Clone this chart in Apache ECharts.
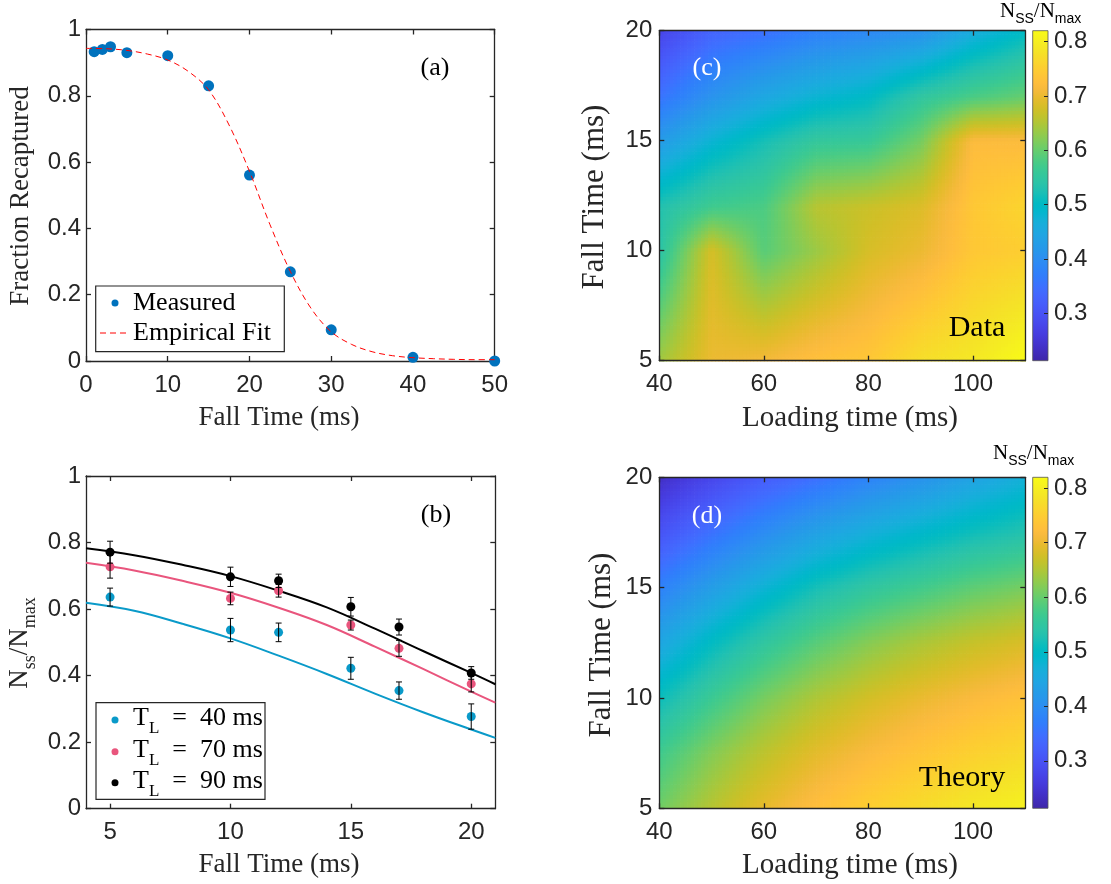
<!DOCTYPE html>
<html><head><meta charset="utf-8">
<script src="https://cdn.jsdelivr.net/npm/echarts@6/dist/echarts.min.js"></script>
<style>html,body{margin:0;padding:0;background:#fff}#chart{width:1111px;height:884px}</style>
</head><body><div id="chart"></div>
<script>
// ---------- Panel (a): recapture vs fall time ----------
const fallTimeA   = [1, 2, 3, 5, 10, 15, 20, 25, 30, 40, 50];
const recapturedA = [0.933, 0.940, 0.948, 0.930, 0.921, 0.830, 0.561, 0.269, 0.094, 0.011, 0.0];
const fitX = [0, 2.5, 5, 7.5, 10, 12.5, 15, 17.5, 20, 22.5, 25, 27.5, 30, 32.5, 35, 37.5, 40, 42.5, 45, 47.5, 50];
const fitY = [0.943, 0.942, 0.937, 0.926, 0.908, 0.874, 0.818, 0.712, 0.572, 0.412, 0.270, 0.160, 0.088, 0.050, 0.028, 0.016, 0.010, 0.007, 0.005, 0.004, 0.004];

// ---------- Panel (b): Nss/Nmax vs fall time ----------
const fallTimeB = [5, 10, 12, 15, 17, 20];
const nss40 = [0.636, 0.537, 0.530, 0.422, 0.355, 0.277];
const err40 = [0.027, 0.035, 0.028, 0.033, 0.026, 0.038];
const nss70 = [0.727, 0.632, 0.655, 0.552, 0.482, 0.375];
const err70 = [0.034, 0.019, 0.019, 0.015, 0.024, 0.024];
const nss90 = [0.771, 0.697, 0.685, 0.607, 0.546, 0.408];
const err90 = [0.033, 0.029, 0.020, 0.028, 0.024, 0.019];
const theoryX  = [4, 6, 8, 10, 12, 14, 16, 18, 20, 21];
const theory40 = [0.619, 0.595, 0.556, 0.512, 0.460, 0.405, 0.346, 0.290, 0.238, 0.213];
const theory70 = [0.739, 0.716, 0.685, 0.649, 0.604, 0.552, 0.487, 0.420, 0.352, 0.319];
const theory90 = [0.783, 0.762, 0.733, 0.699, 0.655, 0.605, 0.541, 0.474, 0.408, 0.374];

// ---------- Panel (c): measured map ----------
const loadingTimes = [40, 50, 60, 70, 80, 90, 100, 110];
const fallTimesData = [5, 10, 12, 15, 17, 20];
const dataTf5  = [0.64, 0.70, 0.71, 0.73, 0.74, 0.775, 0.79, 0.82];
const dataTf10 = [0.54, 0.68, 0.59, 0.635, 0.68, 0.70, 0.74, 0.75];
const dataTf12 = [0.53, 0.57, 0.58, 0.655, 0.67, 0.685, 0.74, 0.76];
const dataTf15 = [0.425, 0.48, 0.52, 0.555, 0.56, 0.61, 0.72, 0.72];
const dataTf17 = [0.355, 0.41, 0.45, 0.48, 0.50, 0.55, 0.58, 0.60];
const dataTf20 = [0.275, 0.33, 0.35, 0.375, 0.39, 0.405, 0.46, 0.50];

// ---------- Panel (d): theory map ----------
const fallTimesTheory = [5, 7.5, 10, 12.5, 15, 17.5, 20];
const thTf5   = [0.607, 0.655, 0.695, 0.727, 0.752, 0.771, 0.790, 0.805];
const thTf7_5 = [0.570, 0.620, 0.660, 0.692, 0.717, 0.737, 0.754, 0.768];
const thTf10  = [0.512, 0.565, 0.612, 0.649, 0.677, 0.699, 0.717, 0.732];
const thTf12_5= [0.448, 0.503, 0.550, 0.590, 0.622, 0.647, 0.667, 0.683];
const thTf15  = [0.377, 0.430, 0.478, 0.520, 0.550, 0.572, 0.595, 0.612];
const thTf17_5= [0.303, 0.352, 0.397, 0.437, 0.467, 0.492, 0.515, 0.532];
const thTf20  = [0.237, 0.280, 0.318, 0.350, 0.382, 0.408, 0.440, 0.470];

// tick labels
const ticksA_x = [0, 10, 20, 30, 40, 50];
const ticksA_y = [0, 0.2, 0.4, 0.6, 0.8, 1];
const ticksB_x = [5, 10, 15, 20];
const ticksMap_x = [40, 60, 80, 100];
const ticksMap_y = [5, 10, 15, 20];
const ticksCbar = [0.3, 0.4, 0.5, 0.6, 0.7, 0.8];
const CBAR_MIN = 0.213, CBAR_MAX = 0.82;

// ---------- style ----------
const SERIF = '"Liberation Serif","Times New Roman",Times,serif';
const SANS = '"Liberation Sans",Arial,Helvetica,sans-serif';
const AX = '#262626';
const BLUE_A = '#0072BD', C40 = '#0A9AC9', C70 = '#E9557D', C90 = '#000000';
const TICK_FS = 24;

// parula colormap (64 levels)
const PARULA = [
[0.2422,0.1504,0.6603],[0.2504,0.1650,0.7076],[0.2578,0.1818,0.7511],[0.2647,0.1978,0.7952],
[0.2706,0.2147,0.8364],[0.2751,0.2342,0.8710],[0.2783,0.2559,0.8991],[0.2803,0.2782,0.9221],
[0.2813,0.3006,0.9414],[0.2810,0.3228,0.9579],[0.2795,0.3447,0.9717],[0.2760,0.3667,0.9829],
[0.2699,0.3892,0.9906],[0.2602,0.4123,0.9952],[0.2440,0.4358,0.9988],[0.2206,0.4603,0.9973],
[0.1963,0.4847,0.9892],[0.1834,0.5074,0.9798],[0.1786,0.5289,0.9682],[0.1764,0.5499,0.9520],
[0.1687,0.5703,0.9359],[0.1540,0.5902,0.9218],[0.1460,0.6091,0.9079],[0.1380,0.6276,0.8973],
[0.1248,0.6459,0.8883],[0.1113,0.6635,0.8763],[0.0952,0.6798,0.8598],[0.0689,0.6948,0.8394],
[0.0297,0.7082,0.8163],[0.0036,0.7203,0.7917],[0.0067,0.7312,0.7660],[0.0433,0.7411,0.7394],
[0.0964,0.7500,0.7120],[0.1408,0.7584,0.6842],[0.1717,0.7670,0.6554],[0.1938,0.7758,0.6251],
[0.2161,0.7843,0.5923],[0.2470,0.7918,0.5567],[0.2906,0.7973,0.5188],[0.3406,0.8008,0.4789],
[0.3909,0.8029,0.4354],[0.4456,0.8024,0.3909],[0.5044,0.7993,0.3480],[0.5616,0.7942,0.3045],
[0.6174,0.7876,0.2612],[0.6720,0.7793,0.2227],[0.7242,0.7698,0.1910],[0.7738,0.7598,0.1646],
[0.8203,0.7498,0.1535],[0.8634,0.7406,0.1596],[0.9035,0.7330,0.1774],[0.9393,0.7288,0.2100],
[0.9728,0.7298,0.2394],[0.9956,0.7434,0.2371],[0.9970,0.7659,0.2199],[0.9952,0.7893,0.2028],
[0.9892,0.8136,0.1885],[0.9786,0.8386,0.1766],[0.9676,0.8639,0.1643],[0.9610,0.8890,0.1537],
[0.9597,0.9135,0.1423],[0.9628,0.9373,0.1265],[0.9691,0.9606,0.1064],[0.9769,0.9839,0.0805]];
function rgb(c){return 'rgb('+Math.round(c[0]*255)+','+Math.round(c[1]*255)+','+Math.round(c[2]*255)+')';}
function parulaColor(val){
  let t=(val-CBAR_MIN)/(CBAR_MAX-CBAR_MIN); t=Math.max(0,Math.min(1,t));
  const f=t*(PARULA.length-1), i=Math.floor(f), k=f-i;
  const a=PARULA[i], b=PARULA[Math.min(i+1,PARULA.length-1)];
  return rgb([a[0]+(b[0]-a[0])*k, a[1]+(b[1]-a[1])*k, a[2]+(b[2]-a[2])*k]);
}

// ---------- build data for library ----------
const zip = (xs, ys) => xs.map((x, i) => [x, ys[i]]);
const errData = (xs, ys, es) => xs.map((x, i) => [x, ys[i] - es[i], ys[i] + es[i]]);
function buildCells(xs, ys, rows){
  const cells=[];
  for(let j=0;j<ys.length-1;j++) for(let i=0;i<xs.length-1;i++)
    cells.push([xs[i],xs[i+1],ys[j],ys[j+1],rows[j][i],rows[j][i+1],rows[j+1][i],rows[j+1][i+1]]);
  return cells;
}
const cellsData = buildCells(loadingTimes, fallTimesData, [dataTf5,dataTf10,dataTf12,dataTf15,dataTf17,dataTf20]);
const cellsTheory = buildCells(loadingTimes, fallTimesTheory, [thTf5,thTf7_5,thTf10,thTf12_5,thTf15,thTf17_5,thTf20]);

const STEP = 3.5;
function heatRender(params, api){
  const x0=api.value(0), x1=api.value(1), y0=api.value(2), y1=api.value(3);
  const q00=api.value(4), q10=api.value(5), q01=api.value(6), q11=api.value(7);
  const a=api.coord([x0,y0]), b=api.coord([x1,y1]);
  const left=a[0], bottom=a[1], w=b[0]-a[0], h=a[1]-b[1];
  const nx=Math.max(1,Math.round(w/STEP)), ny=Math.max(1,Math.round(h/STEP));
  const dw=w/nx, dh=h/ny, children=[];
  for(let i=0;i<nx;i++){ const u=(i+0.5)/nx;
    for(let j=0;j<ny;j++){ const v=(j+0.5)/ny;
      const val=(1-u)*(1-v)*q00+u*(1-v)*q10+(1-u)*v*q01+u*v*q11;
      children.push({type:'rect',shape:{x:left+i*dw,y:bottom-(j+1)*dh,width:dw+0.7,height:dh+0.7},style:{fill:parulaColor(val)}});
    }}
  return {type:'group',children:children,silent:true};
}
function cbarRender(params, api){
  const a=api.coord([api.value(0),api.value(1)]), b=api.coord([api.value(2),api.value(3)]);
  const stops=PARULA.map((c,i)=>({offset:i/(PARULA.length-1),color:rgb(c)}));
  return {type:'rect',shape:{x:a[0],y:b[1],width:b[0]-a[0],height:a[1]-b[1]},
    style:{fill:{type:'linear',x:0,y:1,x2:0,y2:0,colorStops:stops,global:false},stroke:'#555',lineWidth:0.8}};
}
function errRender(params, api){
  const x=api.value(0), pl=api.coord([x,api.value(1)]), ph=api.coord([x,api.value(2)]), cw=3;
  const st={stroke:'#000',lineWidth:1};
  return {type:'group',children:[
    {type:'line',shape:{x1:pl[0],y1:pl[1],x2:ph[0],y2:ph[1]},style:st},
    {type:'line',shape:{x1:pl[0]-cw,y1:pl[1],x2:pl[0]+cw,y2:pl[1]},style:st},
    {type:'line',shape:{x1:ph[0]-cw,y1:ph[1],x2:ph[0]+cw,y2:ph[1]},style:st}]};
}

// ---------- axes ----------
function axis(gridIndex, position, min, max, ticks, showLabels, extra){
  const base={type:'value',gridIndex,position,min,max,
    axisLine:{show:true,onZero:false,lineStyle:{color:AX,width:1.3}},
    axisTick:{show:true,inside:true,length:5,customValues:ticks,lineStyle:{color:AX,width:1.3}},
    axisLabel:{show:showLabels,customValues:ticks,color:AX,fontFamily:SANS,fontSize:TICK_FS,margin:8},
    splitLine:{show:false}};
  if(extra){ for(const k in extra){ if(typeof extra[k]==='object'&&base[k]&&!Array.isArray(extra[k])) Object.assign(base[k],extra[k]); else base[k]=extra[k]; } }
  return base;
}
const xAxes=[
  axis(0,'bottom',0,50,ticksA_x,true,{axisLabel:{margin:12}}),
  axis(0,'top',0,50,ticksA_x,false),
  axis(1,'bottom',4,21,ticksB_x,true,{axisLabel:{margin:12}}),
  axis(1,'top',4,21,ticksB_x,false),
  axis(2,'bottom',40,110,ticksMap_x,true,{z:10,axisLabel:{margin:12}}),
  axis(2,'top',40,110,ticksMap_x,false,{z:10}),
  {type:'value',gridIndex:3,min:0,max:1,show:false},
  axis(4,'bottom',40,110,ticksMap_x,true,{z:10,axisLabel:{margin:12}}),
  axis(4,'top',40,110,ticksMap_x,false,{z:10}),
  {type:'value',gridIndex:5,min:0,max:1,show:false}
];
const yAxes=[
  axis(0,'left',0,1,ticksA_y,true,{axisLabel:{margin:5}}),
  axis(0,'right',0,1,ticksA_y,false),
  axis(1,'left',0,1,ticksA_y,true,{axisLabel:{margin:5}}),
  axis(1,'right',0,1,ticksA_y,false),
  axis(2,'left',5,20,ticksMap_y,true,{z:10,axisLabel:{margin:7}}),
  axis(2,'right',5,20,ticksMap_y,false,{z:10}),
  axis(3,'right',CBAR_MIN,CBAR_MAX,ticksCbar,true,{z:10,axisLine:{show:false},axisTick:{length:4,lineStyle:{width:1}},axisLabel:{margin:6}}),
  axis(4,'left',5,20,ticksMap_y,true,{z:10,axisLabel:{margin:7}}),
  axis(4,'right',5,20,ticksMap_y,false,{z:10}),
  axis(5,'right',CBAR_MIN,CBAR_MAX,ticksCbar,true,{z:10,axisLine:{show:false},axisTick:{length:4,lineStyle:{width:1}},axisLabel:{margin:6}})
];

// ---------- graphic (titles, legends, labels) ----------
const gT=(text,x,y,opt,rot)=>({type:'text',x,y,rotation:rot||0,z:100,style:Object.assign({text,fill:AX,fontFamily:SERIF,fontSize:26,align:'left',verticalAlign:'middle'},opt||{})});
const legRich={t:{fontFamily:SERIF,fontSize:26,lineHeight:30,verticalAlign:'top',fill:'#000'},
               l:{fontFamily:SERIF,fontSize:17,lineHeight:17,padding:[15,0,0,0],verticalAlign:'top',fill:'#000'}};
const yRich={n:{fontFamily:SERIF,fontSize:27,lineHeight:31,verticalAlign:'top',fill:AX},
             s:{fontFamily:SERIF,fontSize:18,lineHeight:18,padding:[15,0,0,0],verticalAlign:'top',fill:AX}};
const cbRich={n:{fontFamily:SERIF,fontSize:21,lineHeight:24,verticalAlign:'top',fill:'#000'},
              s:{fontFamily:SANS,fontSize:14,lineHeight:14,padding:[11,0,0,0],verticalAlign:'top',fill:'#000'}};
const EQ='\u2002=\u2002';
const UP=Math.PI/2;
const graphic=[
  // axis titles
  gT('Fall Time (ms)',279,418,{align:'center',fontSize:27}),
  gT('Fraction Recaptured',21,196,{align:'center',fontSize:27},UP),
  gT('Fall Time (ms)',279,865,{align:'center',fontSize:27}),
  gT('{n|N}{s|ss}{n|/N}{s|max}',22,643,{align:'center',rich:yRich},UP),
  gT('Loading time (ms)',850,418,{align:'center',fontSize:29}),
  gT('Fall Time (ms)',595,197,{align:'center',fontSize:31},UP),
  gT('Loading time (ms)',850,865,{align:'center',fontSize:29}),
  gT('Fall Time (ms)',602,645,{align:'center',fontSize:31},UP),
  // legend (a)
  {type:'rect',z:100,shape:{x:95.7,y:286,width:188.6,height:65.7},style:{fill:'#fff',stroke:AX,lineWidth:1.2}},
  {type:'circle',z:101,shape:{cx:115,cy:303,r:3.5},style:{fill:BLUE_A}},
  {type:'line',z:101,shape:{x1:100,y1:333,x2:128,y2:333},style:{stroke:'#FF0000',lineWidth:1,lineDash:[6,4]}},
  gT('Measured',133,303,{fill:'#000'}),
  gT('Empirical Fit',133,333,{fill:'#000'}),
  // legend (b)
  {type:'rect',z:100,shape:{x:96,y:702.7,width:169,height:96.6},style:{fill:'#fff',stroke:AX,lineWidth:1.2}},
  {type:'circle',z:101,shape:{cx:115,cy:720,r:3.5},style:{fill:C40}},
  {type:'circle',z:101,shape:{cx:115,cy:751.7,r:3.5},style:{fill:C70}},
  {type:'circle',z:101,shape:{cx:115,cy:782.7,r:3.5},style:{fill:C90}},
  gT('{t|T}{l|L}{t|'+EQ+'40 ms}',133,720,{rich:legRich}),
  gT('{t|T}{l|L}{t|'+EQ+'70 ms}',133,751.7,{rich:legRich}),
  gT('{t|T}{l|L}{t|'+EQ+'90 ms}',133,782.7,{rich:legRich}),
  // panel labels
  gT('(a)',435,68,{align:'center',fill:'#000'}),
  gT('(b)',436,515,{align:'center',fill:'#000'}),
  gT('(c)',707,68,{align:'center',fill:'#fff'}),
  gT('(d)',707,516,{align:'center',fill:'#fff'}),
  gT('Data',977,328,{align:'center',fill:'#000',fontSize:30}),
  gT('Theory',962,778,{align:'center',fill:'#000',fontSize:30}),
  // colorbar titles
  gT('{n|N}{s|SS}{n|/N}{s|max}',1000,13,{rich:cbRich}),
  gT('{n|N}{s|SS}{n|/N}{s|max}',993,455,{rich:cbRich})
];

const option={
  animation:false,
  grid:[
    {left:86,top:29.5,width:408.7,height:331.5},
    {left:86,top:476,width:409.3,height:332.7},
    {left:659.3,top:30.7,width:366,height:330},
    {left:1032.7,top:30.7,width:15.3,height:330},
    {left:659.3,top:477.3,width:366,height:331},
    {left:1032.7,top:477.3,width:15.3,height:331}
  ],
  xAxis:xAxes, yAxis:yAxes, graphic:graphic,
  series:[
    {type:'scatter',xAxisIndex:0,yAxisIndex:0,data:zip(fallTimeA,recapturedA),symbolSize:11,itemStyle:{color:BLUE_A,opacity:1},clip:false,z:2},
    {type:'line',xAxisIndex:0,yAxisIndex:0,data:zip(fitX,fitY),smooth:0.35,showSymbol:false,lineStyle:{color:'#FF0000',width:1,type:[6,4]},z:3},
    {type:'line',xAxisIndex:2,yAxisIndex:2,data:zip(theoryX,theory40),smooth:0.4,showSymbol:false,lineStyle:{color:C40,width:2},z:2},
    {type:'line',xAxisIndex:2,yAxisIndex:2,data:zip(theoryX,theory70),smooth:0.4,showSymbol:false,lineStyle:{color:C70,width:2},z:2},
    {type:'line',xAxisIndex:2,yAxisIndex:2,data:zip(theoryX,theory90),smooth:0.4,showSymbol:false,lineStyle:{color:C90,width:2},z:2},
    {type:'scatter',xAxisIndex:2,yAxisIndex:2,data:zip(fallTimeB,nss40),symbolSize:9,itemStyle:{color:C40,opacity:1},z:3},
    {type:'scatter',xAxisIndex:2,yAxisIndex:2,data:zip(fallTimeB,nss70),symbolSize:9,itemStyle:{color:C70,opacity:1},z:3},
    {type:'scatter',xAxisIndex:2,yAxisIndex:2,data:zip(fallTimeB,nss90),symbolSize:9,itemStyle:{color:C90,opacity:1},z:3},
    {type:'custom',xAxisIndex:2,yAxisIndex:2,data:errData(fallTimeB,nss40,err40),renderItem:errRender,z:4,encode:{x:0,y:[1,2]}},
    {type:'custom',xAxisIndex:2,yAxisIndex:2,data:errData(fallTimeB,nss70,err70),renderItem:errRender,z:4,encode:{x:0,y:[1,2]}},
    {type:'custom',xAxisIndex:2,yAxisIndex:2,data:errData(fallTimeB,nss90,err90),renderItem:errRender,z:4,encode:{x:0,y:[1,2]}},
    {type:'custom',xAxisIndex:4,yAxisIndex:4,data:cellsData,renderItem:heatRender,z:1,progressive:0,encode:{x:[0,1],y:[2,3]}},
    {type:'custom',xAxisIndex:7,yAxisIndex:7,data:cellsTheory,renderItem:heatRender,z:1,progressive:0,encode:{x:[0,1],y:[2,3]}},
    {type:'custom',xAxisIndex:6,yAxisIndex:6,data:[[0,CBAR_MIN,1,CBAR_MAX]],renderItem:cbarRender,z:1,encode:{x:[0,2],y:[1,3]}},
    {type:'custom',xAxisIndex:9,yAxisIndex:9,data:[[0,CBAR_MIN,1,CBAR_MAX]],renderItem:cbarRender,z:1,encode:{x:[0,2],y:[1,3]}}
  ]
};
const chart=echarts.init(document.getElementById('chart'),null,{renderer:'canvas'});
chart.setOption(option);
</script></body></html>
